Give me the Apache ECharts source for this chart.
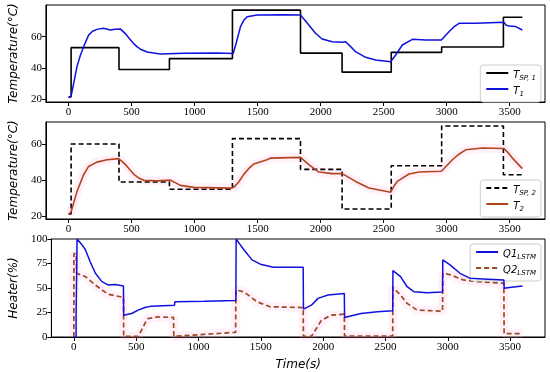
<!DOCTYPE html>
<html><head><meta charset="utf-8">
<script src="https://cdn.jsdelivr.net/npm/echarts@6/dist/echarts.min.js"></script>
<style>html,body{margin:0;padding:0;background:#fff}#c{width:550px;height:372px}</style>
</head><body><div id="c"></div>
<script>
// ---- data (time in s, value) ----
const xTicks = [0, 500, 1000, 1500, 2000, 2500, 3000, 3500];
const tempTicks = [20, 40, 60];
const heaterTicks = [0, 25, 50, 75, 100];

const spTimes = [0, 20, 400, 800, 1300, 1840, 2170, 2560, 2960, 3450, 3600];
const tsp1Values = [21.5, 53, 39, 46, 77, 49.5, 37.3, 50, 53.4, 72.5, 72.5];
const tsp2Values = [21.3, 60, 39, 35, 63, 46, 24, 48, 70, 43, 43];

const t1Data = [[0,21],[20,22],[45,32],[67,41],[93,48],[119,53.6],[140,57.5],[159,61],[190,63.5],[225,64.7],[278,65.4],[331,64.3],[370,64.8],[411,65],[450,62],[480,59],[516,55.6],[545,53.5],[570,52],[623,50.2],[728,49],[914,49.4],[1178,49.6],[1306,49.2],[1330,56],[1364,66.4],[1390,70.5],[1417,72.8],[1496,73.9],[1700,74],[1840,73.9],[1870,71],[1906,67.5],[1959,62.2],[2012,58.5],[2092,56.8],[2171,56.4],[2198,56.8],[2240,53.5],[2277,50.4],[2357,46.8],[2436,45.1],[2555,44],[2595,48.3],[2648,54.7],[2728,58.3],[2833,57.9],[2958,57.9],[3018,63.2],[3060,66.5],[3098,68.6],[3230,68.6],[3455,69.2],[3470,67.5],[3495,66.8],[3548,66.5],[3600,64.3]];

const t2Data = [[0,21],[20,22.5],[67,33.8],[119,43],[159,47.6],[225,50],[304,51.3],[398,51.9],[430,50],[464,47.6],[516,43.4],[560,41],[596,39.9],[702,39.6],[808,40],[850,38.5],[887,37.1],[993,36],[1284,35.6],[1310,36],[1350,39],[1390,43.2],[1430,46.5],[1469,48.9],[1575,51.3],[1600,52.2],[1840,52.6],[1906,48.6],[1986,44.5],[2092,43.6],[2171,43.6],[2277,39.3],[2383,35.7],[2555,33.3],[2580,36.5],[2608,39.3],[2701,43.4],[2780,44.5],[2958,44.9],[3000,48],[3045,51.3],[3100,54.5],[3151,56.8],[3283,57.8],[3455,57.5],[3490,55],[3522,52.2],[3600,46.4]];

const q1Data = [[0,0],[18,0],[18,20],[24,20],[26,100],[60,95],[93,89],[130,77],[173,65],[225,56.5],[278,53],[331,53.6],[398,52],[400,22.3],[464,24],[516,27.4],[570,30.1],[623,31.5],[808,32.5],[810,36],[1046,36.5],[1300,37.2],[1302,100],[1330,95],[1364,89],[1430,78.7],[1496,74.3],[1575,71.9],[1600,71.2],[1840,71.2],[1842,28.4],[1906,32.5],[1959,39.4],[2039,42.8],[2170,44.5],[2172,19.9],[2304,24],[2436,25.7],[2558,26.7],[2560,67.8],[2621,61.6],[2674,51.3],[2728,46.2],[2833,45.2],[2958,46],[2960,78.7],[3018,73.6],[3098,65],[3177,60],[3283,59.3],[3450,58.2],[3452,49.7],[3495,50.4],[3600,52]];

const q2Data = [[0,0],[1,85],[19,85],[22,65],[93,61.6],[173,53],[225,48],[278,43.5],[398,40.4],[400,0.7],[516,0.7],[543,6.9],[575,15],[596,18.9],[675,20.5],[800,20],[802,0.7],[1046,2.7],[1298,4.8],[1300,48],[1364,46.2],[1469,36],[1575,30.8],[1600,30.8],[1840,30],[1842,0.7],[1906,0.7],[1946,8.6],[1986,17.1],[2066,22.3],[2170,23.3],[2172,1],[2558,1],[2560,50.7],[2621,42.8],[2674,34.3],[2754,27.4],[2958,26.4],[2960,65],[3018,63.6],[3124,58.2],[3230,56.5],[3450,54.8],[3452,3.4],[3600,3.4]];

// ---- build ----
const zip = (ts, vs) => ts.map((t, i) => [t, vs[i]]);
const serif = 'Liberation Serif';
const sans = 'DejaVu Sans';
const grids = [
  {left: 45, right: 5, top: 5, height: 97},
  {left: 45, right: 5, top: 122, height: 97},
  {left: 45, right: 5, top: 239, height: 98}
];
const yRanges = [[18.2, 80.3], [18.5, 72.2], [0, 100]];
const yTicks = [tempTicks, tempTicks, heaterTicks];
const yNames = ['Temperature(°C)', 'Temperature(°C)', 'Heater(%)'];

const xAxes = grids.map((g, i) => ({
  type: 'value', gridIndex: i, min: -180, max: 3780,
  axisLine: {show: true, onZero: false, lineStyle: {color: '#000', width: 1}},
  axisTick: {show: true, length: 4, customValues: xTicks, lineStyle: {color: '#000'}},
  axisLabel: {customValues: xTicks, formatter: v => String(v), fontFamily: serif, fontSize: 11, color: '#000', margin: 5},
  splitLine: {show: false},
  name: i === 2 ? 'Time(s)' : '', nameLocation: 'middle', nameGap: 22,
  nameTextStyle: {fontFamily: sans, fontStyle: 'italic', fontSize: 12, color: '#000'}
}));
const yAxes = grids.map((g, i) => ({
  type: 'value', gridIndex: i, min: yRanges[i][0], max: yRanges[i][1],
  axisLine: {show: true, onZero: false, lineStyle: {color: '#000', width: 1}},
  axisTick: {show: true, length: 4, customValues: yTicks[i], lineStyle: {color: '#000'}},
  axisLabel: {customValues: yTicks[i], formatter: v => String(v), fontFamily: serif, fontSize: 11, color: '#000', margin: 4},
  splitLine: {show: false},
  name: yNames[i], nameLocation: 'middle', nameRotate: 90, nameGap: i === 2 ? 31 : 19,
  nameTextStyle: {fontFamily: sans, fontStyle: 'italic', fontSize: 12, color: '#000'}
}));

const lineBase = {type: 'line', showSymbol: false, symbol: 'none', animation: false};
const pink = {color: 'rgba(255,160,225,0.16)', width: 9};
const series = [
  Object.assign({}, lineBase, {name: 'TSP1', xAxisIndex: 0, yAxisIndex: 0, step: 'end', data: zip(spTimes, tsp1Values), color: '#000', lineStyle: {color: '#000', width: 1.6}, z: 3}),
  Object.assign({}, lineBase, {name: 'T1', xAxisIndex: 0, yAxisIndex: 0, data: t1Data, color: '#1010e0', lineStyle: {color: '#1010e0', width: 1.5}, z: 4}),
  Object.assign({}, lineBase, {name: 'shade2', xAxisIndex: 1, yAxisIndex: 1, data: t2Data, lineStyle: pink, z: 1, silent: true}),
  Object.assign({}, lineBase, {name: 'TSP2', xAxisIndex: 1, yAxisIndex: 1, step: 'end', data: zip(spTimes, tsp2Values), color: '#000', lineStyle: {color: '#000', width: 1.6, type: [5, 3]}, z: 3}),
  Object.assign({}, lineBase, {name: 'T2', xAxisIndex: 1, yAxisIndex: 1, data: t2Data, color: '#b4441c', lineStyle: {color: '#b4441c', width: 1.6}, z: 4}),
  Object.assign({}, lineBase, {name: 'shade3', xAxisIndex: 2, yAxisIndex: 2, data: q2Data, lineStyle: pink, z: 1, silent: true}),
  Object.assign({}, lineBase, {name: 'Q1', xAxisIndex: 2, yAxisIndex: 2, data: q1Data, color: '#1010e0', lineStyle: {color: '#1010e0', width: 1.5}, z: 4}),
  Object.assign({}, lineBase, {name: 'Q2', xAxisIndex: 2, yAxisIndex: 2, data: q2Data, color: '#9c4a22', lineStyle: {color: '#9c4a22', width: 1.7, type: [5, 3]}, z: 3})
];

const labelMap = {
  TSP1: '{m|T}{s|SP, 1}', T1: '{m|T}{s|1}',
  TSP2: '{m|T}{s|SP, 2}', T2: '{m|T}{s|2}',
  Q1: '{m|Q1}{s|LSTM}', Q2: '{m|Q2}{s|LSTM}'
};
const rich = {
  m: {fontFamily: sans, fontStyle: 'italic', fontSize: 10, color: '#000', lineHeight: 14, verticalAlign: 'bottom'},
  s: {fontFamily: sans, fontStyle: 'italic', fontSize: 7, color: '#000', lineHeight: 14, verticalAlign: 'bottom', padding: [0, 0, -2, 0]}
};
const legendBase = {
  orient: 'vertical', right: 9, itemWidth: 22, itemHeight: 10, itemGap: 3,
  padding: [4, 5, 4, 5], backgroundColor: '#fff', borderColor: '#cccccc', borderWidth: 1, borderRadius: 3,
  itemStyle: {opacity: 0},
  formatter: n => labelMap[n], textStyle: {rich: rich}, selectedMode: false
};
const legends = [
  Object.assign({}, legendBase, {top: 65, data: ['TSP1', 'T1']}),
  Object.assign({}, legendBase, {top: 180, data: ['TSP2', 'T2']}),
  Object.assign({}, legendBase, {top: 244, data: ['Q1', 'Q2']})
];

const chart = echarts.init(document.getElementById('c'), null, {renderer: 'canvas'});
chart.setOption({
  animation: false,
  backgroundColor: '#fff',
  grid: grids.map(g => Object.assign({show: true, borderColor: '#000', borderWidth: 1, backgroundColor: 'transparent'}, g)),
  xAxis: xAxes, yAxis: yAxes, legend: legends, series: series
});
</script></body></html>
